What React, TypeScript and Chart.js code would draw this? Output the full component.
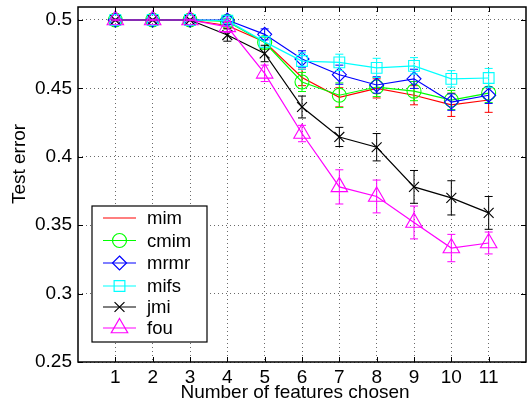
import { useEffect, useRef } from 'react';
import { Chart, registerables } from 'chart.js';

Chart.register(...registerables);

// ---- data ----
const xValues = [1, 2, 3, 4, 5, 6, 7, 8, 9, 10, 11];
const xTicks = [1, 2, 3, 4, 5, 6, 7, 8, 9, 10, 11];
const yTicks = [0.25, 0.3, 0.35, 0.4, 0.45, 0.5];
const seriesNames = ['mim', 'cmim', 'mrmr', 'mifs', 'jmi', 'fou'];

const mim = [0.5, 0.5, 0.5, 0.496, 0.484, 0.458, 0.4435, 0.45, 0.445, 0.438, 0.4415];
const cmim = [0.5, 0.5, 0.5, 0.499, 0.4835, 0.4547, 0.445, 0.451, 0.448, 0.4415, 0.4466];
const mrmr = [0.5, 0.5, 0.5, 0.5, 0.4895, 0.4715, 0.46, 0.4525, 0.457, 0.44, 0.445];
const mifs = [0.5, 0.5, 0.5, 0.4995, 0.484, 0.47, 0.469, 0.465, 0.4665, 0.457, 0.4576];
const jmi = [0.5, 0.5, 0.5, 0.489, 0.4755, 0.4364, 0.4145, 0.407, 0.378, 0.37, 0.359];
const fou = [0.5, 0.5, 0.5, 0.495, 0.461, 0.417, 0.378, 0.371, 0.352, 0.3333, 0.337];

const mimErr = [0.0005, 0.0005, 0.0005, 0.002, 0.004, 0.006, 0.007, 0.007, 0.007, 0.0085, 0.009];
const cmimErr = [0.0005, 0.0005, 0.0005, 0.002, 0.004, 0.007, 0.009, 0.007, 0.007, 0.007, 0.007];
const mrmrErr = [0.0005, 0.0005, 0.0005, 0.003, 0.004, 0.006, 0.007, 0.006, 0.007, 0.006, 0.006];
const mifsErr = [0.0005, 0.0005, 0.0005, 0.002, 0.004, 0.006, 0.006, 0.007, 0.006, 0.006, 0.007];
const jmiErr = [0.0005, 0.0005, 0.0005, 0.0045, 0.006, 0.008, 0.007, 0.01, 0.012, 0.0125, 0.012];
const fouErr = [0.0005, 0.0005, 0.0005, 0.004, 0.006, 0.006, 0.0125, 0.012, 0.012, 0.01, 0.008];

const xTitle = 'Number of features chosen';
const yTitle = 'Test error';

// ---- styles ----
const seriesValues = [mim, cmim, mrmr, mifs, jmi, fou];
const seriesErrors = [mimErr, cmimErr, mrmrErr, mifsErr, jmiErr, fouErr];
const colors = ['#ff0000', '#00ff00', '#0000ff', '#00ffff', '#000000', '#ff00ff'];
const markers: (string | null)[] = [null, 'circle', 'rectRot', 'rect', 'crossRot', 'triangle'];
const markerRadius = [0, 7, 7, 7.6, 7, 9.5];
const FONT = '"Liberation Sans", Arial, Helvetica, sans-serif';

function drawMarker(ctx: CanvasRenderingContext2D, style: string, x: number, y: number, r: number) {
  ctx.beginPath();
  if (style === 'circle') {
    ctx.arc(x, y, r, 0, Math.PI * 2);
  } else if (style === 'rectRot') {
    ctx.moveTo(x, y - r);
    ctx.lineTo(x + r, y);
    ctx.lineTo(x, y + r);
    ctx.lineTo(x - r, y);
    ctx.closePath();
  } else if (style === 'rect') {
    const s = r * Math.SQRT1_2;
    ctx.rect(x - s, y - s, 2 * s, 2 * s);
  } else if (style === 'crossRot') {
    const s = r * Math.SQRT1_2;
    ctx.moveTo(x - s, y - s);
    ctx.lineTo(x + s, y + s);
    ctx.moveTo(x - s, y + s);
    ctx.lineTo(x + s, y - s);
  } else if (style === 'triangle') {
    const a = (2 * Math.PI) / 3;
    ctx.moveTo(x, y - r);
    ctx.lineTo(x + Math.sin(a) * r, y - Math.cos(a) * r);
    ctx.lineTo(x + Math.sin(2 * a) * r, y - Math.cos(2 * a) * r);
    ctx.closePath();
  }
  ctx.stroke();
}

const errorBarPlugin = {
  id: 'errorBars',
  beforeDatasetDraw(chart: any, args: any) {
    const ds = chart.data.datasets[args.index];
    const errs: number[] = ds.errors;
    if (!errs) return;
    const ctx = chart.ctx;
    const xs = chart.scales.x;
    const ys = chart.scales.y;
    ctx.save();
    ctx.strokeStyle = ds.borderColor;
    ctx.lineWidth = 1;
    ds.data.forEach((p: any, i: number) => {
      const px = xs.getPixelForValue(p.x);
      const t = ys.getPixelForValue(p.y + errs[i]);
      const b = ys.getPixelForValue(p.y - errs[i]);
      const cap = 4;
      ctx.beginPath();
      ctx.moveTo(px, t);
      ctx.lineTo(px, b);
      ctx.moveTo(px - cap, t);
      ctx.lineTo(px + cap, t);
      ctx.moveTo(px - cap, b);
      ctx.lineTo(px + cap, b);
      ctx.stroke();
    });
    ctx.restore();
  },
};

const framePlugin = {
  id: 'frame',
  afterDraw(chart: any) {
    const ctx = chart.ctx;
    const { left, right, top, bottom } = chart.chartArea;
    const xs = chart.scales.x;
    const ys = chart.scales.y;
    ctx.save();
    ctx.strokeStyle = '#000';
    ctx.lineWidth = 1;
    const tl = 5;
    ctx.beginPath();
    xs.ticks.forEach((t: any) => {
      const px = Math.round(xs.getPixelForValue(t.value)) + 0.5;
      ctx.moveTo(px, bottom);
      ctx.lineTo(px, bottom - tl);
      ctx.moveTo(px, top);
      ctx.lineTo(px, top + tl);
    });
    ys.ticks.forEach((t: any) => {
      const py = Math.round(ys.getPixelForValue(t.value)) + 0.5;
      ctx.moveTo(left, py);
      ctx.lineTo(left + tl, py);
      ctx.moveTo(right, py);
      ctx.lineTo(right - tl, py);
    });
    ctx.stroke();
    ctx.lineWidth = 1.5;
    ctx.strokeRect(left, top, right - left, bottom - top);

    // axis titles
    ctx.fillStyle = '#000';
    ctx.font = `19px ${FONT}`;
    ctx.textAlign = 'center';
    ctx.textBaseline = 'alphabetic';
    ctx.fillText(xTitle, 295, 398);
    ctx.save();
    ctx.translate(25, 164);
    ctx.rotate(-Math.PI / 2);
    ctx.fillText(yTitle, 0, 0);
    ctx.restore();

    // legend
    const lx = 92, ly = 206, lw = 115, lh = 136;
    ctx.fillStyle = '#fff';
    ctx.fillRect(lx, ly, lw, lh);
    ctx.lineWidth = 1.2;
    ctx.strokeStyle = '#000';
    ctx.strokeRect(lx, ly, lw, lh);
    const rows = [218, 240.5, 263, 286, 307, 328];
    ctx.font = `18.5px ${FONT}`;
    ctx.textAlign = 'left';
    ctx.textBaseline = 'middle';
    seriesNames.forEach((name, i) => {
      const y = rows[i];
      ctx.strokeStyle = colors[i];
      ctx.lineWidth = 1.2;
      ctx.beginPath();
      ctx.moveTo(103, y);
      ctx.lineTo(136, y);
      ctx.stroke();
      const m = markers[i];
      if (m) drawMarker(ctx, m, 119.5, y, markerRadius[i]);
      ctx.fillStyle = '#000';
      ctx.fillText(name, 147, y + 1);
    });
    ctx.restore();
  },
};

export default function App() {
  const ref = useRef<HTMLCanvasElement | null>(null);

  useEffect(() => {
    document.body.style.margin = '0';
    if (!ref.current) return;
    const datasets = seriesNames.map((name, i) => ({
      label: name,
      data: xValues.map((x, j) => ({ x, y: seriesValues[i][j] })),
      errors: seriesErrors[i],
      borderColor: colors[i],
      backgroundColor: 'rgba(0,0,0,0)',
      borderWidth: 1.2,
      showLine: true,
      pointStyle: markers[i] || 'circle',
      pointRadius: markerRadius[i],
      pointHoverRadius: markerRadius[i],
      pointBorderWidth: 1.1,
      pointBorderColor: colors[i],
      pointBackgroundColor: 'rgba(0,0,0,0)',
      order: seriesNames.length - i,
      tension: 0,
      clip: false,
    }));
    const chart = new Chart(ref.current, {
      type: 'scatter',
      data: { datasets } as any,
      plugins: [errorBarPlugin, framePlugin],
      options: {
        animation: false,
        responsive: false,
        events: [],
        layout: { autoPadding: false, padding: { top: 7, right: 1, left: 0, bottom: 0 } },
        plugins: { legend: { display: false }, tooltip: { enabled: false } },
        scales: {
          x: {
            type: 'linear',
            min: 0,
            max: 12,
            afterBuildTicks: (axis: any) => {
              axis.ticks = xTicks.map((v) => ({ value: v }));
            },
            afterFit: (axis: any) => {
              axis.height = 40;
              axis.paddingLeft = 0;
              axis.paddingRight = 0;
            },
            ticks: {
              color: '#000',
              font: { family: FONT, size: 19 },
              padding: 4,
              maxRotation: 0,
              autoSkip: false,
              callback: (v: any) => String(v),
            },
            grid: { color: '#6a6a6a', lineWidth: 1, drawTicks: false },
            border: { display: false, dash: [1, 3] },
          },
          y: {
            type: 'linear',
            min: 0.25,
            max: 0.5095,
            afterBuildTicks: (axis: any) => {
              axis.ticks = yTicks.map((v) => ({ value: v }));
            },
            afterFit: (axis: any) => {
              axis.width = 78;
              axis.paddingTop = 0;
              axis.paddingBottom = 0;
            },
            ticks: {
              color: '#000',
              font: { family: FONT, size: 19 },
              padding: 6,
              autoSkip: false,
              callback: (v: any) => String(Math.round(v * 100) / 100),
            },
            grid: { color: '#6a6a6a', lineWidth: 1, drawTicks: false },
            border: { display: false, dash: [1, 3] },
          },
        },
      } as any,
    });
    return () => chart.destroy();
  }, []);

  return (
    <div style={{ position: 'absolute', left: 0, top: 0, width: 527, height: 402, background: '#fff' }}>
      <canvas ref={ref} width={527} height={402} style={{ width: 527, height: 402, display: 'block' }} />
    </div>
  );
}
